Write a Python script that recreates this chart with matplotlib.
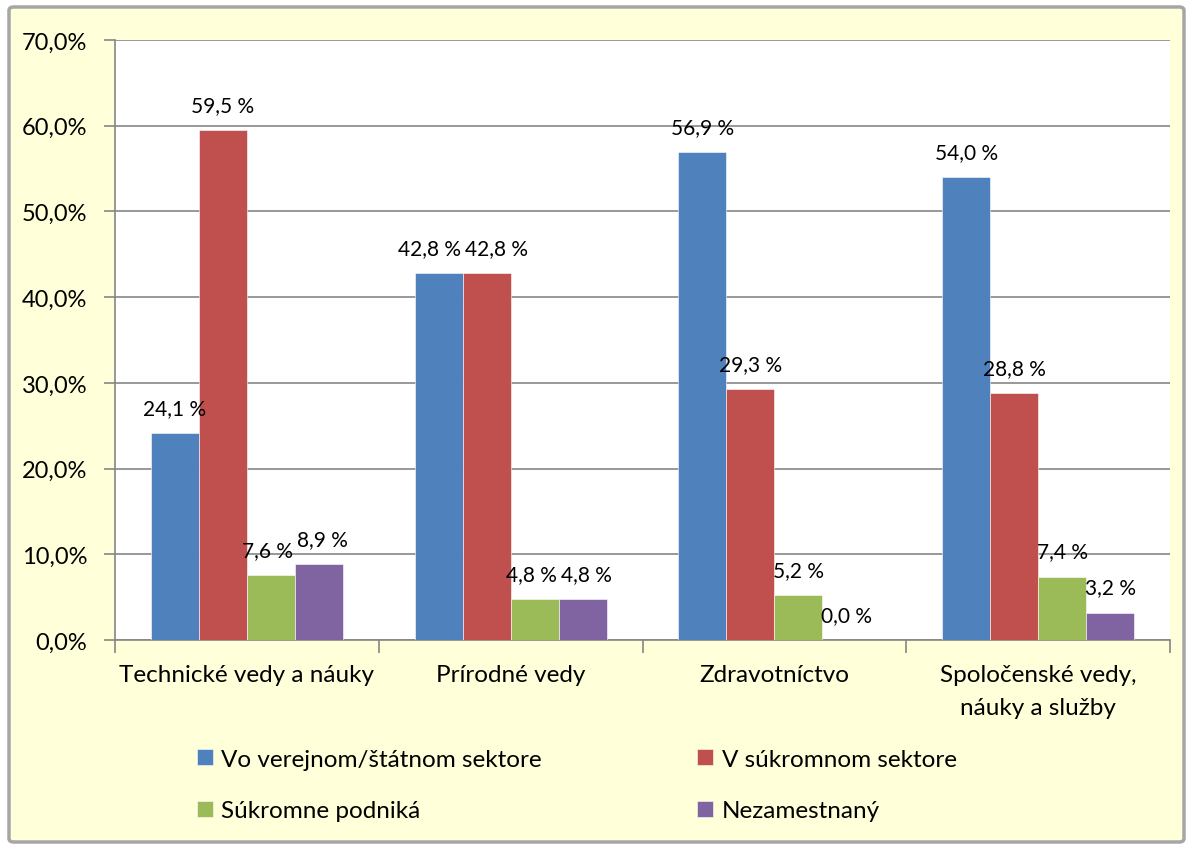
import matplotlib
matplotlib.use("Agg")
import matplotlib.pyplot as plt
import numpy as np
from matplotlib.patches import FancyBboxPatch
from matplotlib.ticker import FuncFormatter, MultipleLocator

plt.rcParams['font.family'] = ['Lato', 'DejaVu Sans']

categories = ["Technické vedy a náuky", "Prírodné vedy", "Zdravotníctvo",
              "Spoločenské vedy,\nnáuky a služby"]
series_names = ["Vo verejnom/štátnom sektore", "V súkromnom sektore",
                "Súkromne podniká", "Nezamestnaný"]
verejny = [24.1, 42.8, 56.9, 54.0]
sukromny = [59.5, 42.8, 29.3, 28.8]
podnika = [7.6, 4.8, 5.2, 7.4]
nezamestnany = [8.9, 4.8, 0.0, 3.2]
series = [verejny, sukromny, podnika, nezamestnany]
colors = ["#4F81BD", "#C0504D", "#9BBB59", "#8064A2"]

W, H = 1192, 853
fig = plt.figure(figsize=(W / 100, H / 100), dpi=100)
fig.patch.set_facecolor("white")

# chart frame
frame = FancyBboxPatch((9 / W, 10 / H), (1184 - 9) / W, (845 - 10) / H,
                       boxstyle="round,pad=0,rounding_size=0.004",
                       transform=fig.transFigure, facecolor="#FFFFD9",
                       edgecolor="#A6A6A6", linewidth=2.5, zorder=-10)
fig.patches.append(frame)

ax = fig.add_axes([115 / W, 1 - 641 / H, (1170 - 115) / W, (641 - 41) / H])
ax.set_zorder(5)
ax.set_facecolor("white")

x = np.arange(len(categories))
bw = 1 / 5.5
handles = []
labels = {}  # (category index, series index) -> text
for i, (vals, c, name) in enumerate(zip(series, colors, series_names)):
    pos = x + (i - 1.5) * bw
    bars = ax.bar(pos, vals, width=bw, color=c, label=name, zorder=3,
                  edgecolor="white", linewidth=0.4)
    handles.append(bars)
    for j, (xx, v) in enumerate(zip(pos, vals)):
        t = ax.annotate(f"{v:.1f} %".replace(".", ","), (xx, v), xytext=(0, 18),
                        textcoords="offset points", ha="center", va="center",
                        fontsize=15, color="black", zorder=4)
        labels[(j, i)] = t

ax.set_xlim(-0.5, len(categories) - 0.5)
ax.set_ylim(0, 70)
ax.yaxis.set_major_locator(MultipleLocator(10))
ax.yaxis.set_major_formatter(FuncFormatter(lambda v, p: f"{v:.1f}%".replace(".", ",")))
ax.grid(axis="y", color="#868686", linewidth=1.2, zorder=1)
ax.set_axisbelow(True)

ax.set_xticks(x)
ax.set_xticklabels(categories, fontsize=17.5, linespacing=1.75)
ax.set_xticks(np.arange(len(categories) + 1) - 0.5, minor=True)
ax.tick_params(axis="x", which="major", length=0, pad=17)
ax.tick_params(axis="x", which="minor", length=9, color="#868686", width=1.2)
ax.tick_params(axis="y", length=8, color="#868686", width=1.2, labelsize=17, pad=12)

for s in ["top", "right"]:
    ax.spines[s].set_visible(False)
for s in ["left", "bottom"]:
    ax.spines[s].set_color("#868686")
    ax.spines[s].set_linewidth(1.2)

# nudge neighbouring data labels apart when they overlap (as Excel does)
fig.canvas.draw()
renderer = fig.canvas.get_renderer()
gap_px = 4
for j in range(len(categories)):
    for i in range(len(series) - 1):
        a, b = labels[(j, i)], labels[(j, i + 1)]
        ba, bb = a.get_window_extent(renderer), b.get_window_extent(renderer)
        vert = min(ba.y1, bb.y1) - max(ba.y0, bb.y0)
        overlap = ba.x1 + gap_px - bb.x0
        if vert > 0 and overlap > 0:
            da = overlap / 2 * 72 / fig.dpi
            xa, ya = a.xyann
            xb, yb = b.xyann
            a.xyann = (xa - da, ya)
            b.xyann = (xb + da, yb)

order = [0, 2, 1, 3]
fig.legend([handles[k] for k in order], [series_names[k] for k in order],
           loc="upper left", bbox_to_anchor=(175 / W, 1 - 728 / H), ncol=2,
           frameon=False, fontsize=17.5, handlelength=0.65, handleheight=0.65,
           handletextpad=0.35, columnspacing=6.4, labelspacing=1.25)

fig.savefig("out.png", dpi=100)
